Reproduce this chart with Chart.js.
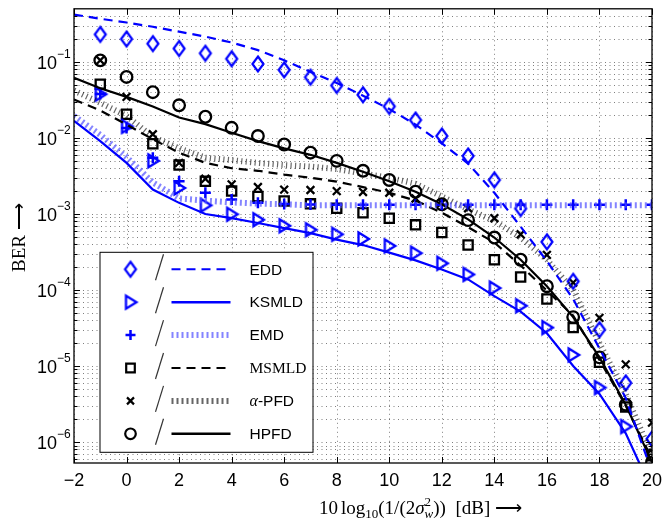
<!DOCTYPE html>
<html>
<head>
<meta charset="utf-8">
<script src="https://cdn.jsdelivr.net/npm/chart.js@4.4.0/dist/chart.umd.min.js"></script>
<style>
  html, body { margin: 0; padding: 0; background: #fff; }
  canvas { display: block; }
</style>
</head>
<body>
<canvas id="ber" width="662" height="520"></canvas>
<script>
// ---------------- DATA ----------------
// curves are evaluated from -2 dB, markers from -1 dB
const snrLine = [-2, -1, 0, 1, 2, 3, 4, 5, 6, 7, 8, 9, 10, 11, 12, 13, 14, 15, 16, 17, 18, 19, 20];
const snrMark = [-1, 0, 1, 2, 3, 4, 5, 6, 7, 8, 9, 10, 11, 12, 13, 14, 15, 16, 17, 18, 19, 20];

const eddLine = [0.42, 0.37, 0.33, 0.29, 0.25, 0.215, 0.18, 0.143, 0.105, 0.074, 0.053, 0.036, 0.024, 0.015, 0.0085, 0.0046, 0.0019, 6.8e-4, 2.4e-4, 7.6e-5, 1.7e-5, 3.8e-6, 4e-7];
const eddMark = [0.23, 0.20, 0.174, 0.15, 0.13, 0.11, 0.094, 0.0785, 0.063, 0.049, 0.037, 0.026, 0.0172, 0.0106, 0.0058, 0.0028, 0.00118, 4.3e-4, 1.3e-4, 3.0e-5, 6.0e-6, 1.1e-6];

const ksmldLine = [0.0168, 0.0091, 0.0047, 0.0021, 0.0014, 1.0e-3, 8.8e-4, 7.6e-4, 6.5e-4, 5.6e-4, 4.6e-4, 3.9e-4, 3.1e-4, 2.45e-4, 1.86e-4, 1.38e-4, 8.3e-5, 5.2e-5, 2.7e-5, 1.0e-5, 4.3e-6, 1.3e-6, 2.3e-7];
const ksmldMark = [0.0376, 0.0142, 0.005, 0.0022, 0.0013, 9.9e-4, 8.4e-4, 7.0e-4, 6.2e-4, 5.4e-4, 4.7e-4, 3.8e-4, 3.05e-4, 2.24e-4, 1.6e-4, 1.06e-4, 6.2e-5, 3.2e-5, 1.4e-5, 5.2e-6, 1.6e-6, 4e-7];

const emdLine = [0.0195, 0.011, 0.0056, 0.0026, 0.0016, 0.0015, 0.00142, 0.00137, 0.00134, 0.0013, 0.0013, 0.0013, 0.0013, 0.0013, 0.0013, 0.0013, 0.0013, 0.0013, 0.0013, 0.0013, 0.0013, 0.0013, 0.0013];
const emdMark = [0.038, 0.0135, 0.0055, 0.0027, 0.0019, 0.00155, 0.0014, 0.00135, 0.00133, 0.00132, 0.00132, 0.00132, 0.00132, 0.00132, 0.00132, 0.00132, 0.00132, 0.00132, 0.00132, 0.00132, 0.00132, 0.00132];

const msmldLine = [0.032, 0.023, 0.015, 0.0096, 0.0064, 0.0047, 0.0040, 0.0037, 0.0033, 0.0030, 0.00266, 0.00226, 0.0019, 0.0015, 1.04e-3, 6.7e-4, 4.2e-4, 2.1e-4, 9.8e-5, 4.6e-5, 1.2e-5, 3.0e-6, 6.0e-7];
const msmldMark = [0.051, 0.0205, 0.0084, 0.0044, 0.0027, 0.0020, 0.0017, 0.00148, 0.00136, 0.00119, 1.04e-3, 8.8e-4, 7.2e-4, 5.7e-4, 3.9e-4, 2.5e-4, 1.48e-4, 7.6e-5, 3.2e-5, 1.12e-5, 2.9e-6, 6.6e-7];

const pfdLine = [0.042, 0.029, 0.0195, 0.0103, 0.0073, 0.0055, 0.0051, 0.0047, 0.0044, 0.0042, 0.0039, 0.0034, 0.0030, 0.0025, 0.0017, 0.00115, 8.1e-4, 4.9e-4, 2.5e-4, 1.0e-4, 2.0e-5, 4.3e-6, 6.6e-7];
const pfdMark = [0.105, 0.0347, 0.0112, 0.0047, 0.0029, 0.00245, 0.00226, 0.00209, 0.00207, 0.0020, 0.00195, 0.0019, 0.0016, 0.0014, 0.00119, 8.8e-4, 5.4e-4, 2.9e-4, 1.25e-4, 4.3e-5, 1.05e-5, 1.8e-6];

const hpfdLine = [0.062, 0.045, 0.0347, 0.026, 0.0186, 0.0152, 0.0117, 0.0091, 0.0073, 0.0060, 0.0047, 0.0036, 0.0027, 0.00196, 0.00134, 8.5e-4, 4.9e-4, 2.5e-4, 1.12e-4, 4.4e-5, 1.3e-5, 3.1e-6, 5.4e-7];
const hpfdMark = [0.105, 0.0635, 0.040, 0.0269, 0.019, 0.0136, 0.0106, 0.0082, 0.0064, 0.0050, 0.0037, 0.0028, 0.00196, 0.00134, 8.3e-4, 4.9e-4, 2.5e-4, 1.12e-4, 4.4e-5, 1.3e-5, 3.1e-6, 5.4e-7];

const xTickVals = [-2, 0, 2, 4, 6, 8, 10, 12, 14, 16, 18, 20];
const yDecades = [-6, -5, -4, -3, -2, -1];

// ---------------- STYLE ----------------
const BLUE = '#0000ff';
const BLACK = '#000000';
const SANS = '"Liberation Sans", Arial, sans-serif';
const SERIF = '"Liberation Serif", "Times New Roman", serif';

function pts(xs, ys){
    return ys.map((v, i) => ({x: xs[i], y: v}));
}

function markerCanvas(w, h, draw){
    const c = document.createElement('canvas');
    c.width = w; c.height = h;
    const g = c.getContext('2d');
    draw(g, w / 2, h / 2);
    return c;
}

// tall open diamond and right-pointing triangle
const diamondImg = markerCanvas(16, 20, (g, cx, cy) => {
    g.strokeStyle = BLUE; g.lineWidth = 2.2; g.lineJoin = 'miter';
    g.beginPath();
    g.moveTo(cx, cy - 7.5); g.lineTo(cx + 5.5, cy); g.lineTo(cx, cy + 7.5); g.lineTo(cx - 5.5, cy);
    g.closePath(); g.stroke();
});
const triangleImg = markerCanvas(18, 18, (g, cx, cy) => {
    g.strokeStyle = BLUE; g.lineWidth = 2.3; g.lineJoin = 'miter';
    g.beginPath();
    g.moveTo(cx - 4.5, cy - 6.5); g.lineTo(cx + 6, cy); g.lineTo(cx - 4.5, cy + 6.5);
    g.closePath(); g.stroke();
});

function curve(data, color, width, dash){
    return {
        data: data, borderColor: color, borderWidth: width, borderDash: dash || [],
        pointRadius: 0, fill: false, tension: 0
    };
}
function marks(data, color, style, radius, width){
    return {
        data: data, showLine: false, pointStyle: style, pointRadius: radius, pointHoverRadius: radius,
        pointBorderColor: color, pointBorderWidth: width, pointBackgroundColor: 'rgba(0,0,0,0)'
    };
}

const HATCH_BLUE = 'rgba(80,80,255,0.7)';
const HATCH_BLACK = 'rgba(0,0,0,0.6)';

// ---------------- LEGEND ----------------
const legendRows = [
    {mark: 'diamond', line: [BLUE, 2, [9, 6]], label: [['EDD', SANS]]},
    {mark: 'triangle', line: [BLUE, 2.5, []], label: [['KSMLD', SANS]]},
    {mark: 'plus', line: [HATCH_BLUE, 6, [2, 3]], label: [['EMD', SANS]]},
    {mark: 'square', line: [BLACK, 2, [9, 6]], label: [['MSMLD', SERIF]]},
    {mark: 'x', line: [HATCH_BLACK, 6, [2, 3]], label: [['α', 'italic '], ['-PFD', SANS]]},
    {mark: 'circle', line: [BLACK, 2.5, []], label: [['HPFD', SANS]]}
];

function drawMark(ctx, kind, x, y){
    ctx.save();
    ctx.lineWidth = 2;
    ctx.strokeStyle = BLACK;
    ctx.beginPath();
    if (kind === 'diamond') { ctx.drawImage(diamondImg, x - 8, y - 10); ctx.restore(); return; }
    if (kind === 'triangle') { ctx.drawImage(triangleImg, x - 9, y - 9); ctx.restore(); return; }
    if (kind === 'plus') {
        ctx.strokeStyle = BLUE; ctx.lineWidth = 2.5;
        ctx.moveTo(x - 5, y); ctx.lineTo(x + 5, y); ctx.moveTo(x, y - 5); ctx.lineTo(x, y + 5);
    } else if (kind === 'square') {
        ctx.lineWidth = 2.2;
        ctx.rect(x - 4.3, y - 4.3, 8.6, 8.6);
    } else if (kind === 'x') {
        ctx.lineWidth = 2.2;
        ctx.moveTo(x - 3.5, y - 3.5); ctx.lineTo(x + 3.5, y + 3.5); ctx.moveTo(x + 3.5, y - 3.5); ctx.lineTo(x - 3.5, y + 3.5);
    } else if (kind === 'circle') {
        ctx.lineWidth = 2.2;
        ctx.arc(x, y, 5.3, 0, Math.PI * 2);
    }
    ctx.stroke();
    ctx.restore();
}

function drawLegend(ctx, a){
    const left = a.left + 25.5, top = a.top + 243, w = 213, h = 200;
    ctx.save();
    ctx.fillStyle = '#fff';
    ctx.fillRect(left, top, w, h);
    ctx.strokeStyle = BLACK; ctx.lineWidth = 1;
    ctx.strokeRect(left + 0.5, top + 0.5, w, h);
    legendRows.forEach((row, i) => {
        const cy = top + 17.5 + i * 32.9;
        drawMark(ctx, row.mark, left + 31, cy);
        // separator slash
        ctx.strokeStyle = '#333'; ctx.lineWidth = 1.2; ctx.setLineDash([]);
        ctx.beginPath(); ctx.moveTo(left + 64, cy - 15); ctx.lineTo(left + 56, cy + 11); ctx.stroke();
        // line sample
        const [col, lw, dash] = row.line;
        ctx.strokeStyle = col; ctx.lineWidth = lw; ctx.setLineDash(dash);
        ctx.beginPath(); ctx.moveTo(left + 72, cy); ctx.lineTo(left + 131, cy); ctx.stroke();
        ctx.setLineDash([]);
        // label
        ctx.fillStyle = BLACK; ctx.textBaseline = 'middle'; ctx.textAlign = 'left';
        let tx = left + 150;
        row.label.forEach(([t, f]) => {
            ctx.font = f === 'italic ' ? 'italic 16px ' + SERIF : '15.5px ' + f;
            ctx.fillText(t, tx, cy + 1);
            tx += ctx.measureText(t).width;
        });
    });
    ctx.restore();
}

// ---------------- AXES ----------------
function drawRuns(ctx, x, y, runs){
    runs.forEach(r => {
        ctx.font = r.font;
        ctx.fillText(r.t, x, y + (r.dy || 0));
        if (!r.stack) x += ctx.measureText(r.t).width + (r.gap || 0);
    });
}

const axesPlugin = {
    id: 'axesPlugin',
    beforeDraw(chart){
        const ctx = chart.ctx;
        ctx.save();
        ctx.fillStyle = '#fff';
        ctx.fillRect(0, 0, chart.width, chart.height);
        ctx.restore();
    },
    beforeDatasetsDraw(chart){
        const {ctx, chartArea: a, scales: {x, y}} = chart;
        ctx.save();
        ctx.strokeStyle = 'rgba(0,0,0,0.5)';
        ctx.lineWidth = 1;
        ctx.setLineDash([1, 3.5]);
        ctx.beginPath();
        xTickVals.forEach(v => {
            const px = Math.round(x.getPixelForValue(v)) + 0.5;
            ctx.moveTo(px, a.top); ctx.lineTo(px, a.bottom);
        });
        for (let e = -7; e <= 0; e++) {
            for (let k = 1; k <= 9; k++) {
                const v = k * Math.pow(10, e);
                if (v <= y.min || v >= y.max) continue;
                const py = Math.round(y.getPixelForValue(v)) + 0.5;
                ctx.moveTo(a.left, py); ctx.lineTo(a.right, py);
            }
        }
        ctx.stroke();
        ctx.restore();
    },
    afterDraw(chart){
        const {ctx, chartArea: a, scales: {x, y}} = chart;
        drawLegend(ctx, a);
        ctx.save();
        ctx.strokeStyle = BLACK; ctx.lineWidth = 1.3; ctx.setLineDash([]);
        ctx.strokeRect(a.left, a.top, a.right - a.left, a.bottom - a.top);

        // inward tick marks
        ctx.lineWidth = 1;
        ctx.beginPath();
        xTickVals.forEach(v => {
            const px = Math.round(x.getPixelForValue(v)) + 0.5;
            ctx.moveTo(px, a.bottom); ctx.lineTo(px, a.bottom - 6);
            ctx.moveTo(px, a.top); ctx.lineTo(px, a.top + 6);
        });
        for (let e = -7; e <= 0; e++) {
            for (let k = 1; k <= 9; k++) {
                const v = k * Math.pow(10, e);
                if (v <= y.min || v >= y.max) continue;
                const py = Math.round(y.getPixelForValue(v)) + 0.5;
                const len = k === 1 ? 6 : 3.5;
                ctx.moveTo(a.left, py); ctx.lineTo(a.left + len, py);
                ctx.moveTo(a.right, py); ctx.lineTo(a.right - len, py);
            }
        }
        ctx.stroke();

        // tick labels
        ctx.fillStyle = BLACK;
        ctx.textBaseline = 'alphabetic';
        ctx.font = '18px ' + SANS;
        ctx.textAlign = 'center';
        xTickVals.forEach(v => {
            const label = v < 0 ? '\u2212' + Math.abs(v) : String(v);
            ctx.fillText(label, x.getPixelForValue(v), a.bottom + 23);
        });
        yDecades.forEach(e => {
            const py = y.getPixelForValue(Math.pow(10, e));
            ctx.font = '18px ' + SANS;
            ctx.textAlign = 'right';
            ctx.fillText('10', a.left - 17, py + 7);
            ctx.font = '12px ' + SANS;
            ctx.textAlign = 'left';
            ctx.fillText('\u2212' + Math.abs(e), a.left - 17, py - 4);
        });

        // axis titles
        ctx.textAlign = 'left';
        const big = '19px ' + SERIF, small = '13px ' + SERIF;
        drawRuns(ctx, 319, 514, [
            {t: '10', font: big, gap: 3},
            {t: 'log', font: big},
            {t: '10', font: small, dy: 4},
            {t: '(1/(2', font: big},
            {t: 'σ', font: 'italic ' + big},
            {t: '2', font: small, dy: -8, stack: true},
            {t: 'w', font: 'italic ' + small, dy: 4},
            {t: '))  [dB] ', font: big},
            {t: '⟶', font: big}
        ]);
        ctx.translate(25, 272);
        ctx.rotate(-Math.PI / 2);
        ctx.font = big;
        ctx.fillText('BER ⟶', 0, 0);
        ctx.restore();
    }
};

// ---------------- CHART ----------------
new Chart(document.getElementById('ber'), {
    type: 'line',
    data: {
        datasets: [
            curve(pts(snrLine, eddLine), BLUE, 2.2, [9, 6]),
            curve(pts(snrLine, ksmldLine), BLUE, 2.2),
            curve(pts(snrLine, emdLine), HATCH_BLUE, 6, [2, 3]),
            curve(pts(snrLine, msmldLine), BLACK, 2.2, [9, 6]),
            curve(pts(snrLine, pfdLine), HATCH_BLACK, 6, [1.2, 3.3]),
            curve(pts(snrLine, hpfdLine), BLACK, 2.2),
            marks(pts(snrMark, eddMark), BLUE, diamondImg, 6, 2),
            marks(pts(snrMark, ksmldMark), BLUE, triangleImg, 6, 2),
            marks(pts(snrMark, emdMark), BLUE, 'cross', 5.5, 2.5),
            marks(pts(snrMark, msmldMark), BLACK, 'rect', 6.5, 2.3),
            marks(pts(snrMark, pfdMark), BLACK, 'crossRot', 5.5, 2.3),
            marks(pts(snrMark, hpfdMark), BLACK, 'circle', 5.8, 2.3)
        ]
    },
    options: {
        responsive: false,
        animation: false,
        devicePixelRatio: 1,
        layout: {padding: {left: 74, right: 10, top: 8, bottom: 57}},
        plugins: {legend: {display: false}, tooltip: {enabled: false}},
        scales: {
            x: {type: 'linear', min: -2, max: 20, display: false},
            y: {type: 'logarithmic', min: 5.3e-7, max: 0.5, display: false}
        }
    },
    plugins: [axesPlugin]
});
</script>
</body>
</html>
